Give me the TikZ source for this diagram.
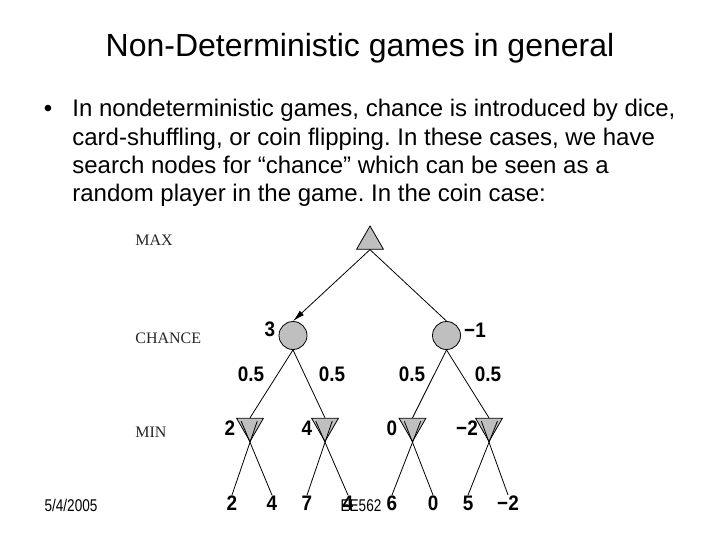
\documentclass[tikz,border=0pt]{standalone}
\usepackage{fontspec}
\setmainfont{Liberation Sans}
\newfontfamily\narrowsans[FakeStretch=0.9]{Liberation Sans}
\newfontfamily\footsans[FakeStretch=0.8]{Liberation Sans}
\newfontfamily\levelserif{Liberation Serif}
\usetikzlibrary{calc,shapes.geometric,arrows.meta}
\frenchspacing

\begin{document}
\begin{tikzpicture}[x=1pt,y=-1pt,line width=0.8pt,
  body/.style={anchor=base west,inner sep=0pt,font=\fontsize{24}{28}\selectfont},
  level/.style={anchor=base west,inner sep=0pt,text=black!85,font=\levelserif\fontsize{16}{19}\selectfont},
  num/.style={anchor=base,inner sep=0pt,font=\narrowsans\bfseries\fontsize{21}{24}\selectfont},
  foot/.style={anchor=base,inner sep=0pt,font=\footsans\fontsize{17}{20}\selectfont},
  maxnode/.style={shape=regular polygon,regular polygon sides=3,draw,fill=gray!50,inner sep=0pt,minimum size=31pt},
  minnode/.style={maxnode,shape border rotate=180},
  chance/.style={shape=circle,draw,fill=gray!50,inner sep=0pt,minimum size=28pt}]
\useasboundingbox (0,0) rectangle (720,540);

\node(title) at (360,57)[anchor=base,font=\fontsize{32}{38}\selectfont] {Non-Deterministic games in general};
\node(dot) at (48,117)[anchor=base,font=\fontsize{24}{28}\selectfont] {•};
\node(line1) at (72,117)[body] {In nondeterministic games, chance is introduced by dice,};
\node(line2) at (72,145.5)[body] {card-shuffling, or coin flipping. In these cases, we have};
\node(line3) at (72,174)[body] {search nodes for “chance” which can be seen as a};
\node(line4) at (72,202)[body] {random player in the game. In the coin case:};

\node(lmax) at (135,245)[level] {MAX};
\node(lchance) at (135,343)[level] {CHANCE};
\node(lmin) at (135,437)[level] {MIN};

\node(max) at (370,241.5)[maxnode] {};
\node(c1) at (293,335.5)[chance] {};
\node(c2) at (446.5,335.5)[chance] {};
\node(m1) at (250,426)[minnode] {};
\node(m2) at (325,426)[minnode] {};
\node(m3) at (412.5,426)[minnode] {};
\node(m4) at (489,426)[minnode] {};

\node(vc1) at (270,336)[num] {3};
\node(vc2) at (475,337)[num] {−1};
\node(p1) at (251,381)[num] {0.5};
\node(p2) at (332,381)[num] {0.5};
\node(p3) at (412,381)[num] {0.5};
\node(p4) at (488,381)[num] {0.5};
\node(vm1) at (230,435)[num] {2};
\node(vm2) at (307,435)[num] {4};
\node(vm3) at (392,435)[num] {0};
\node(vm4) at (467,435)[num] {−2};

\node(f1) at (232,510)[num] {2};
\node(f2) at (272,510)[num] {4};
\node(f3) at (307,510)[num] {7};
\node(f4) at (348,510)[num] {4};
\node(f5) at (392,510)[num] {6};
\node(f6) at (433,510)[num] {0};
\node(f7) at (468,510)[num] {5};
\node(f8) at (508,510)[num] {−2};

\path
  (max.south) edge [-{Latex[length=12pt,width=6pt]}] (c1.north)
  (max.south) edge (c2.north)
  (c1.south)  edge (m1.north)
  (c1.south)  edge (m2.north)
  (c2.south)  edge (m3.north)
  (c2.south)  edge (m4.north)
  (f1.north)  edge ($(f1.north)!1.4!(m1.corner 1)$)
  (f2.north)  edge ($(f2.north)!1.4!(m1.corner 1)$)
  (f3.north)  edge ($(f3.north)!1.4!(m2.corner 1)$)
  (f4.north)  edge ($(f4.north)!1.4!(m2.corner 1)$)
  (f5.north)  edge ($(f5.north)!1.4!(m3.corner 1)$)
  (f6.north)  edge ($(f6.north)!1.4!(m3.corner 1)$)
  (f7.north)  edge ($(f7.north)!1.4!(m4.corner 1)$)
  (f8.north)  edge ($(f8.north)!1.4!(m4.corner 1)$);

\node(date) at (71,511)[foot] {5/4/2005};
\node(course) at (361,511)[foot] {EE562};
\end{tikzpicture}
\end{document}
